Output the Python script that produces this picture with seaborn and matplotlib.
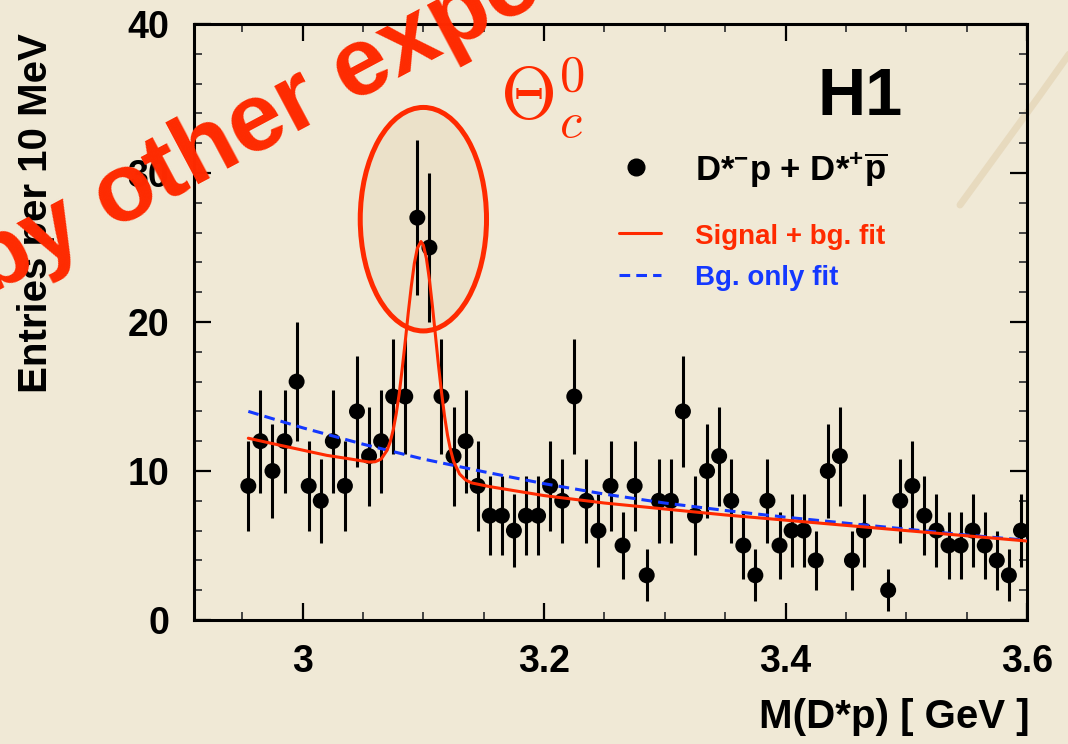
import numpy as np
import pandas as pd
import matplotlib
matplotlib.use("Agg")
import matplotlib.pyplot as plt
import seaborn as sns
from matplotlib.patches import Ellipse
from matplotlib.lines import Line2D
from matplotlib.ticker import MultipleLocator, FuncFormatter

# ---------------- data ----------------
mass_centers = [2.955, 2.965, 2.975, 2.985, 2.995, 3.005, 3.015, 3.025, 3.035, 3.045,
                3.055, 3.065, 3.075, 3.085, 3.095, 3.105, 3.115, 3.125, 3.135, 3.145,
                3.155, 3.165, 3.175, 3.185, 3.195, 3.205, 3.215, 3.225, 3.235, 3.245,
                3.255, 3.265, 3.275, 3.285, 3.295, 3.305, 3.315, 3.325, 3.335, 3.345,
                3.355, 3.365, 3.375, 3.385, 3.395, 3.405, 3.415, 3.425, 3.435, 3.445,
                3.455, 3.465, 3.475, 3.485, 3.495, 3.505, 3.515, 3.525, 3.535, 3.545,
                3.555, 3.565, 3.575, 3.585, 3.595]
entries = [9, 12, 10, 12, 16, 9, 8, 12, 9, 14,
           11, 12, 15, 15, 27, 25, 15, 11, 12, 9,
           7, 7, 6, 7, 7, 9, 8, 15, 8, 6,
           9, 5, 9, 3, 8, 8, 14, 7, 10, 11,
           8, 5, 3, 8, 5, 6, 6, 4, 10, 11,
           4, 6, 0, 2, 8, 9, 7, 6, 5, 5,
           6, 5, 4, 3, 6]

sig_fit_x = [2.955, 2.98, 3.0, 3.02, 3.04, 3.055, 3.06, 3.065, 3.07, 3.0725, 3.075,
             3.0775, 3.08, 3.0825, 3.085, 3.0875, 3.09, 3.0925, 3.095, 3.098, 3.1,
             3.1025, 3.105, 3.1075, 3.11, 3.1125, 3.115, 3.1175, 3.12, 3.1225, 3.125,
             3.13, 3.135, 3.14, 3.155, 3.2, 3.25, 3.3, 3.35, 3.4, 3.45, 3.5, 3.55, 3.6]
sig_fit_y = [12.2, 11.75, 11.4, 11.05, 10.8, 10.6, 10.62, 10.8, 11.4, 11.95, 12.75,
             13.84, 15.2, 16.9, 18.7, 20.64, 22.4, 23.93, 24.95, 25.4, 25.15,
             24.27, 22.85, 21.06, 19.1, 17.1, 15.3, 13.7, 12.4, 11.42, 10.65,
             9.8, 9.4, 9.2, 8.95, 8.35, 7.85, 7.45, 7.05, 6.7, 6.35, 6.0, 5.65, 5.3]

bg_fit_x = [2.955, 3.0, 3.05, 3.1, 3.15, 3.2, 3.25, 3.3, 3.35, 3.4, 3.45, 3.5, 3.55, 3.6]
bg_fit_y = [14.0, 12.9, 11.8, 10.8, 9.95, 9.15, 8.45, 7.85, 7.35, 6.9, 6.5, 6.1, 5.7, 5.35]

legend_data = "D*$^{-}$p + D*$^{+}\\overline{\\mathrm{p}}$"
legend_sig = "Signal + bg. fit"
legend_bg = "Bg. only fit"

# ---------------- style ----------------
sns.set_theme(style="ticks")
plt.rcParams["font.family"] = ["Liberation Sans", "DejaVu Sans"]
plt.rcParams["font.weight"] = "bold"
plt.rcParams["text.color"] = "black"
plt.rcParams["mathtext.fontset"] = "custom"
plt.rcParams["mathtext.rm"] = "Liberation Sans:bold"
plt.rcParams["mathtext.it"] = "Liberation Sans:bold"
plt.rcParams["mathtext.bf"] = "Liberation Sans:bold"

BG = "#f0e9d6"
RED = "#ff2a00"
BLUE = "#1438ff"

W, H = 1068, 744
fig = plt.figure(figsize=(W / 100, H / 100), dpi=100, facecolor=BG)

def fx(px):
    return px / W

def fy(py):
    return 1 - py / H

# faint parchment streak on the right
fig.add_artist(Line2D([fx(960), fx(1000), fx(1040), fx(1072)],
                      [fy(205), fy(150), fy(95), fy(50)], color="#c9a56c",
                      alpha=0.22, lw=5, transform=fig.transFigure, zorder=-1,
                      solid_capstyle="round"))

ax = fig.add_axes([fx(194), fy(620), fx(1027) - fx(194), fy(24) - fy(620)])
ax.set_facecolor("none")

df = pd.DataFrame({"mass": mass_centers, "entries": entries})
df_nz = df[df["entries"] > 0]

# highlight ellipse around the peak
ax.add_patch(Ellipse((3.100, 26.9), width=0.1046, height=15.0,
                     facecolor=(0.80, 0.68, 0.45, 0.13), edgecolor=RED,
                     lw=3.6, zorder=2))

# data with Poisson error bars
ax.errorbar(df_nz["mass"], df_nz["entries"], yerr=np.sqrt(df_nz["entries"]),
            fmt="none", ecolor="black", elinewidth=2.2, capsize=0, zorder=3)
sns.scatterplot(data=df_nz, x="mass", y="entries", color="black", s=11.5 ** 2,
                edgecolor="none", linewidth=0, ax=ax, zorder=4, legend=False)

# fits
sns.lineplot(x=bg_fit_x, y=bg_fit_y, ax=ax, color=BLUE, lw=2.2, zorder=5,
             sort=False, estimator=None)
ax.lines[-1].set_linestyle((0, (3.5, 2.0)))
sns.lineplot(x=sig_fit_x, y=sig_fit_y, ax=ax, color=RED, lw=2.2, zorder=6,
             sort=False, estimator=None)

# axes
ax.set_xlim(2.91, 3.60)
ax.set_ylim(0, 40)
ax.set_xlabel("")
ax.set_ylabel("")
ax.xaxis.set_major_locator(MultipleLocator(0.2))
ax.xaxis.set_minor_locator(MultipleLocator(0.05))
ax.yaxis.set_major_locator(MultipleLocator(10))
ax.yaxis.set_minor_locator(MultipleLocator(2))
ax.xaxis.set_major_formatter(FuncFormatter(lambda v, p: f"{v:g}"))
ax.yaxis.set_major_formatter(FuncFormatter(lambda v, p: f"{v:g}"))
ax.tick_params(which="both", direction="in", top=True, right=True)
ax.tick_params(which="major", length=12.5, width=1.6, color="black", labelsize=27,
               labelcolor="black")
ax.tick_params(axis="x", which="major", pad=17)
ax.tick_params(axis="y", which="major", pad=18)
ax.tick_params(which="minor", length=6, width=1.4, color="#444444")
for lab in ax.get_xticklabels() + ax.get_yticklabels():
    lab.set_fontweight("bold")
for sp in ax.spines.values():
    sp.set_visible(True)
    sp.set_linewidth(2.2)
    sp.set_color("black")

# axis titles
fig.text(fx(1030), fy(728), "M(D*p) [ GeV ]", ha="right", va="baseline",
         fontsize=29, fontweight="bold", color="black")
fig.text(fx(36), fy(33), "Entries per 10 MeV", rotation=90, ha="center", va="top",
         fontsize=29, fontweight="bold", color="black")

# H1 label and Theta_c^0
fig.text(fx(817), fy(115), "H1", ha="left", va="baseline", fontsize=48,
         fontweight="bold", color="black")
fig.text(fx(500), fy(120), r"$\Theta_c^0$", math_fontfamily="cm", ha="left",
         va="baseline", fontsize=52, color=RED)

# manual legend
fig.add_artist(Line2D([fx(636)], [fy(167)], marker="o", ms=12, color="black",
                      lw=0, transform=fig.transFigure))
fig.text(fx(695), fy(180), legend_data, ha="left", va="baseline", fontsize=25,
         fontweight="bold", color="black")
fig.add_artist(Line2D([fx(619), fx(661)], [fy(233), fy(233)], color=RED, lw=2.2,
                      transform=fig.transFigure))
fig.text(fx(695), fy(244), legend_sig, ha="left", va="baseline", fontsize=20,
         fontweight="bold", color=RED)
fig.add_artist(Line2D([fx(619), fx(661)], [fy(275), fy(275)], color=BLUE, lw=2.2,
                      ls=(0, (3.5, 2.0)), transform=fig.transFigure))
fig.text(fx(695), fy(285), legend_bg, ha="left", va="baseline", fontsize=20,
         fontweight="bold", color=BLUE)

# red overlay remark (cut off by the picture edges, as in the original)
fig.text(fx(-12), fy(296), "by other experiments", rotation=28, rotation_mode="anchor",
         ha="left", va="baseline", fontsize=70, fontweight="bold", color=RED, zorder=10)

fig.savefig("out.png", dpi=100, facecolor=BG)
